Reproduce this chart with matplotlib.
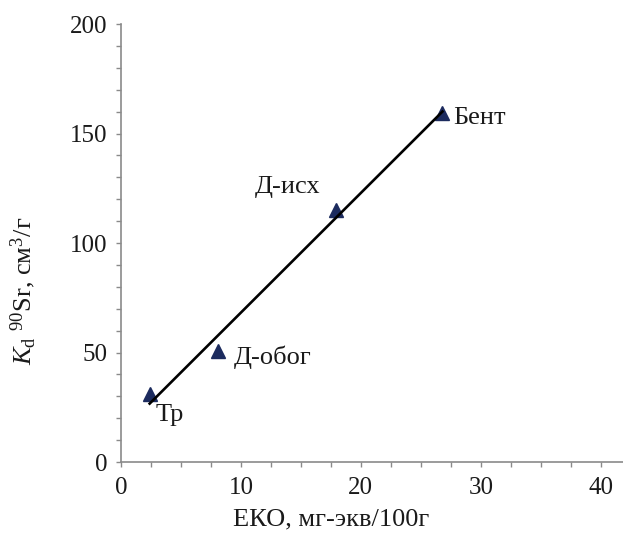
import numpy as np
import matplotlib
matplotlib.use("Agg")
import matplotlib.pyplot as plt
from matplotlib.ticker import MultipleLocator

# data
names = ["Тр", "Д-обог", "Д-исх", "Бент"]
eko = [2.4, 8.1, 17.9, 26.8]          # ЕКО, мг-экв/100г
kd = [31.0, 50.5, 115.0, 159.5]       # Kd 90Sr, см3/г
x_ticks = [0, 10, 20, 30, 40]
y_ticks = [0, 50, 100, 150, 200]

# label offsets (points) relative to each marker
offsets = [(4, -15), (11, -4), (-11, 17), (8, -4)]
aligns = [("left", "center"), ("left", "center"), ("right", "center"), ("left", "center")]

plt.rcParams["font.family"] = ["Liberation Serif", "DejaVu Serif"]
plt.rcParams["mathtext.fontset"] = "custom"
plt.rcParams["mathtext.rm"] = "Liberation Serif"
plt.rcParams["mathtext.it"] = "Liberation Serif:italic"

fig = plt.figure(figsize=(6.23, 5.36), dpi=100)
ax = fig.add_axes([0.194, 0.138, 0.809, 0.817])

ax.plot(eko, kd, linestyle="none", marker="^", markersize=10,
        color="#1c2b5e", zorder=2)

# linear trend
k, b = np.polyfit(eko, kd, 1)
xs = np.array([min(eko), max(eko)])
ax.plot(xs, k * xs + b, color="black", linewidth=1.9, zorder=3)

for name, x, y, off, (ha, va) in zip(names, eko, kd, offsets, aligns):
    ax.annotate(name, (x, y), xytext=off, textcoords="offset points",
                ha=ha, va=va, fontsize=19, color="#1a1a1a")

ax.set_xlim(0, 42)
ax.set_ylim(0, 200)
ax.set_xticks(x_ticks)
ax.set_yticks(y_ticks)
ax.xaxis.set_minor_locator(MultipleLocator(2.5))
ax.yaxis.set_minor_locator(MultipleLocator(10))

for s in ["top", "right"]:
    ax.spines[s].set_visible(False)
for s in ["left", "bottom"]:
    ax.spines[s].set_color("#8a8a8a")
    ax.spines[s].set_linewidth(1.2)
ax.tick_params(which="both", direction="out", color="#8a8a8a", width=1.0,
               length=3.5, labelsize=18, labelcolor="#1a1a1a")
ax.tick_params(axis="x", pad=7)
ax.tick_params(axis="y", pad=6)

ax.set_xlabel("ЕКО, мг-экв/100г", fontsize=19, color="#1a1a1a")
ax.xaxis.set_label_coords(0.417, -0.105)
ax.set_ylabel(r"$K_\mathrm{d}$ $^{90}$Sr, см$^3$/г", fontsize=19,
              color="#1a1a1a")
ax.yaxis.set_label_coords(-0.165, 0.39)

fig.savefig("out.png", dpi=100)
